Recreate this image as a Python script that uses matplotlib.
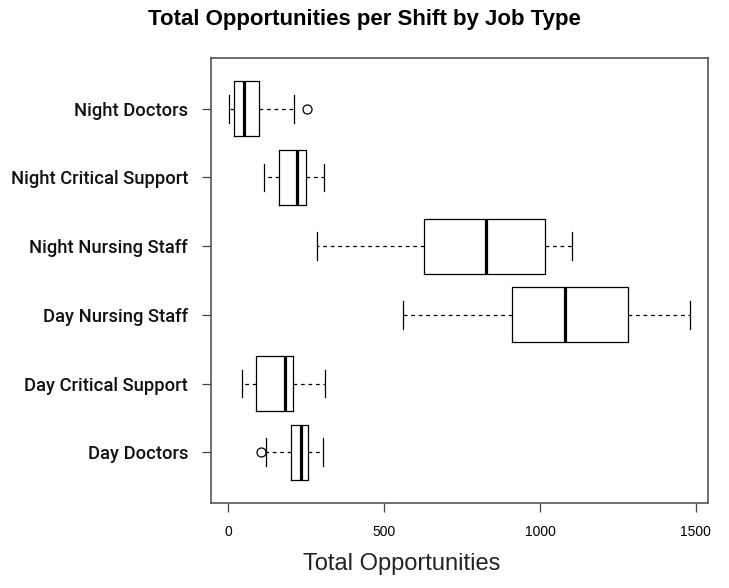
import numpy as np
import matplotlib.pyplot as plt

# job types, bottom to top as drawn
groups = ["Day Doctors", "Day Critical Support", "Day Nursing Staff",
          "Night Nursing Staff", "Night Critical Support", "Night Doctors"]

# five-number summaries
whisk_lo = [122, 43, 559, 285, 113, 3]
q1 = [201, 88, 910, 629, 163, 18]
med = [232, 182, 1079, 826, 220, 50]
q3 = [254, 207, 1283, 1017, 248, 98]
whisk_hi = [302, 310, 1480, 1103, 306, 211]
outliers = [[103], [], [], [], [], [252]]

stats = []
for i, g in enumerate(groups):
    stats.append(dict(label=g, whislo=whisk_lo[i], q1=q1[i], med=med[i],
                      q3=q3[i], whishi=whisk_hi[i], fliers=outliers[i]))

plt.rcParams['font.family'] = ['Liberation Sans', 'DejaVu Sans']

fig = plt.figure(figsize=(7.29, 5.88), dpi=100)
# axes box in pixels: left 211, right 708, top 58, bottom 503
ax = fig.add_axes([211/729, 1 - 503/588, (708-211)/729, (503-58)/588])

ax.bxp(stats, positions=range(1, 7), vert=False, widths=0.8,
       boxprops=dict(color='black', linewidth=0.9),
       medianprops=dict(color='black', linewidth=2.3, solid_capstyle='butt'),
       whiskerprops=dict(color='black', linewidth=0.9, linestyle=(0, (3, 3))),
       capprops=dict(color='black', linewidth=0.9),
       capwidths=0.4,
       flierprops=dict(marker='o', markerfacecolor='none', markeredgecolor='black',
                       markersize=6.5, markeredgewidth=0.9))

# R-style 4% padding
lo = min(min(whisk_lo), 103)
hi = max(whisk_hi)
pad = 0.04 * (hi - lo)
ax.set_xlim(lo - pad, hi + pad)
ax.set_ylim(0.5 - 0.24, 6.5 + 0.24)

ax.set_xticks([0, 500, 1000, 1500])
ax.set_xticklabels(["0", "500", "1000", "1500"], fontsize=10)
ax.set_yticks(range(1, 7))
ax.set_yticklabels(groups, fontsize=13.2, family='Roboto', fontweight='medium',
                   color='#111111')
ax.tick_params(axis='both', length=6.5, width=0.9, color='#444444')
ax.tick_params(axis='y', pad=10)
ax.tick_params(axis='x', pad=9)

for s in ax.spines.values():
    s.set_color('#555555')
    s.set_linewidth(1.2)

fig.text(0.5, 1 - 20/588, "Total Opportunities per Shift by Job Type",
         ha='center', va='center', fontsize=16, fontweight='bold')
fig.text(402/729, 1 - 564/588, "Total Opportunities",
         ha='center', va='center', fontsize=17, color='#222222')

fig.savefig("out.png", dpi=100)
